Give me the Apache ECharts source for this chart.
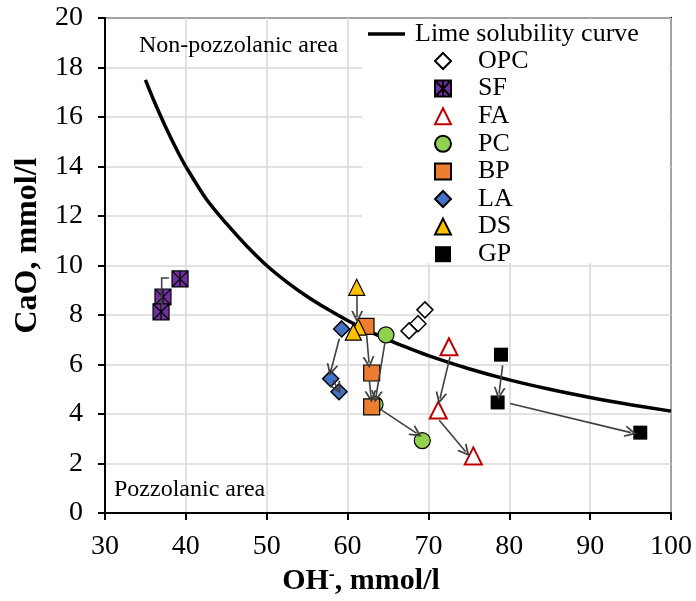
<!DOCTYPE html>
<html><head><meta charset="utf-8">
<script src="https://cdn.jsdelivr.net/npm/echarts@6/dist/echarts.min.js"></script>
<style>html,body{margin:0;padding:0;background:#fff}#c{width:696px;height:601px}</style>
</head><body><div id="c"></div>
<script>
// ---- data ----
const xRange = [30, 100, 10];
const yRange = [0, 20, 2];
const curveX = [35, 36, 37.5, 39, 40, 42.5, 45, 47.5, 50, 52.5, 55, 57.5, 60, 62.5, 65, 67.5, 70, 75, 80, 85, 90, 95, 100];
const curveY = [17.5, 16.7, 15.6, 14.6, 14.0, 12.7, 11.7, 10.8, 10.0, 9.33, 8.75, 8.24, 7.78, 7.37, 7.0, 6.67, 6.36, 5.83, 5.38, 5.0, 4.67, 4.38, 4.12];
const OPC = [[69.57, 8.21], [68.71, 7.65], [67.6, 7.36]];
const SF = [[39.28, 9.46], [37.17, 8.73], [36.93, 8.13]];
const FA = [[72.54, 6.72], [71.22, 4.16], [75.55, 2.31]];
const PC = [[64.75, 7.2], [63.39, 4.39], [69.24, 2.93]];
const BP = [[62.28, 7.54], [62.98, 5.66], [62.98, 4.29]];
const LA = [[59.27, 7.44], [57.91, 5.43], [58.94, 4.9]];
const DS = [[61.13, 9.12], [61.33, 7.51], [60.71, 7.31]];
const GP = [[78.97, 6.4], [78.56, 4.47], [96.2, 3.25]];
const arrows = [
  [[58.98, 7.04], [57.95, 5.77]],
  [[58.23, 5.36], [58.78, 5.03]],
  [[61.19, 8.78], [61.19, 7.92]],
  [[62.36, 7.18], [62.65, 6.08]],
  [[62.69, 5.36], [62.9, 4.7]],
  [[64.63, 6.91], [63.51, 4.7]],
  [[64.22, 4.16], [68.55, 3.22]],
  [[72.67, 6.31], [71.43, 4.63]],
  [[71.34, 3.75], [74.61, 2.48]],
  [[79.18, 5.97], [78.73, 4.83]],
  [[80.09, 4.43], [95.05, 3.25]]
];
const elbowArrow = [[37.91, 9.5], [37.01, 9.5], [37.01, 8.25]];
const legendMarkers = ['OPC', 'SF', 'FA', 'PC', 'BP', 'LA', 'DS', 'GP'];
const curveName = 'Lime solubility curve';
const noteTop = 'Non-pozzolanic area';
const noteBottom = 'Pozzolanic area';

// ---- chart ----
const FF = "'Liberation Serif','Times New Roman',serif";
const curve = curveX.map((x, i) => [x, curveY[i]]);
const sfPath = 'path://M0,0L10,0L10,10L0,10Z M5,0.3L5,9.7 M0.4,0.4L9.6,9.6 M9.6,0.4L0.4,9.6';
const arrowHead = 'path://M0,10L5,0L10,10L8.4,10L5,3.4L1.6,10Z';

function sc(name, data, symbol, size, fill, border, bw) {
  return {
    type: 'scatter', name, data, symbol, symbolSize: size, z: 3,
    itemStyle: { color: fill, borderColor: border, borderWidth: bw, opacity: 1 }
  };
}

const chart = echarts.init(document.getElementById('c'));
chart.setOption({
  animation: false,
  backgroundColor: '#fff',
  grid: { left: 105, right: 25, top: 18, bottom: 86, show: true, borderColor: '#000', borderWidth: 2, backgroundColor: 'transparent' },
  xAxis: {
    type: 'value', min: xRange[0], max: xRange[1], interval: xRange[2],
    name: 'OH{sup|-}, mmol/l', nameLocation: 'middle', nameGap: 47,
    nameTextStyle: { fontFamily: FF, fontSize: 30, fontWeight: 'bold', color: '#000', padding: [0, 54, 0, 0],
      rich: { sup: { fontFamily: FF, fontSize: 18, fontWeight: 'bold', color: '#000', verticalAlign: 'top' } } },
    axisLine: { show: true, lineStyle: { color: '#000', width: 2 } },
    axisTick: { show: true, inside: false, length: 7, lineStyle: { color: '#000', width: 2 } },
    axisLabel: { fontFamily: FF, fontSize: 28, color: '#000', margin: 20 },
    splitLine: { show: true, lineStyle: { color: '#d9d9d9', width: 1.5 } }
  },
  yAxis: {
    type: 'value', min: yRange[0], max: yRange[1], interval: yRange[2],
    name: 'CaO, mmol/l', nameLocation: 'middle', nameGap: 39,
    nameTextStyle: { fontFamily: FF, fontSize: 32, fontWeight: 'bold', color: '#000', padding: [0, 0, 0, 40] },
    axisLine: { show: true, lineStyle: { color: '#000', width: 2 } },
    axisTick: { show: true, inside: false, length: 7, lineStyle: { color: '#000', width: 2 } },
    axisLabel: { fontFamily: FF, fontSize: 28, color: '#000', margin: 22 },
    splitLine: { show: true, lineStyle: { color: '#d9d9d9', width: 1.5 } }
  },
  legend: [
    { data: [{ name: curveName, icon: 'rect' }], left: 368, top: 21, orient: 'vertical', padding: 0,
      itemWidth: 37, itemHeight: 3.5, selectedMode: false,
      textStyle: { fontFamily: FF, fontSize: 26, color: '#000', padding: [0, 0, 0, 5] } },
    { data: legendMarkers, left: 434, top: 48, orient: 'vertical', padding: 0,
      itemWidth: 16, itemHeight: 16, itemGap: 1.6, selectedMode: false,
      textStyle: { fontFamily: FF, fontSize: 26, color: '#000', padding: [0, 0, 0, 22] } }
  ],
  graphic: { elements: [
    { type: 'rect', z: 1, silent: true, shape: { x: 362, y: 20, width: 307, height: 243 }, style: { fill: '#fff' } },
    { type: 'text', z: 3, silent: true, style: { x: 139, y: 46, text: noteTop, font: '24px ' + FF, fill: '#000', verticalAlign: 'middle' } },
    { type: 'text', z: 3, silent: true, style: { x: 114, y: 490, text: noteBottom, font: '24px ' + FF, fill: '#000', verticalAlign: 'middle' } }
  ] },
  series: [
    { type: 'line', name: curveName, data: curve, smooth: 0.3, symbol: 'none', z: 3,
      lineStyle: { color: '#000', width: 3.5 }, itemStyle: { color: '#000' } },
    sc('OPC', OPC, 'diamond', 16, '#fff', '#000', 1.5),
    sc('SF', SF, sfPath, 16, '#7030A0', '#000', 1.2),
    sc('FA', FA, 'triangle', 17, '#fff', '#C00000', 2),
    sc('PC', PC, 'circle', 16, '#92D050', '#000', 1.2),
    sc('BP', BP, 'rect', 16, '#ED7D31', '#000', 1.2),
    sc('LA', LA, 'diamond', 16, '#4472C4', '#000', 1.5),
    sc('DS', DS, 'triangle', 16, '#FFC000', '#000', 1.2),
    sc('GP', GP, 'rect', 14, '#000', '#000', 0),
    { type: 'lines', coordinateSystem: 'cartesian2d', z: 5, silent: true,
      symbol: ['none', arrowHead], symbolSize: [11, 12],
      lineStyle: { color: '#404040', width: 1.6, opacity: 1 },
      data: arrows.map(c => ({ coords: c })) },
    { type: 'lines', coordinateSystem: 'cartesian2d', polyline: true, z: 5, silent: true,
      symbol: ['none', arrowHead], symbolSize: [11, 12],
      lineStyle: { color: '#404040', width: 1.6, opacity: 1 },
      data: [{ coords: elbowArrow }] }
  ]
});
</script></body></html>
